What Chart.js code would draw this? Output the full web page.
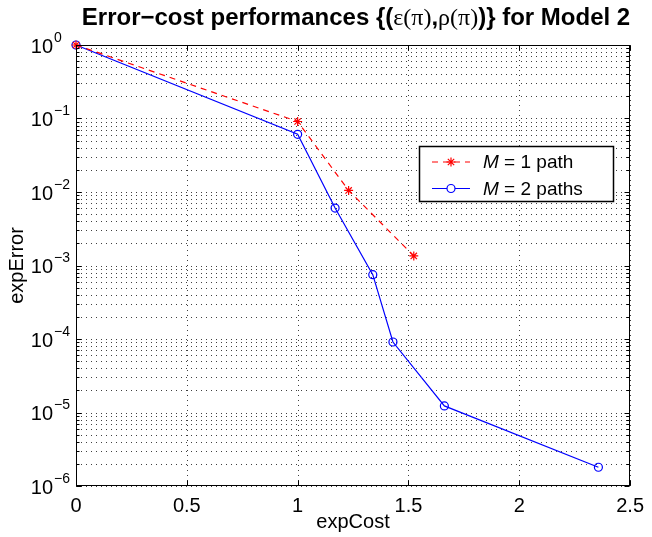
<!DOCTYPE html>
<html>
<head>
<meta charset="utf-8">
<title>Error-cost performances</title>
<script src="https://cdn.jsdelivr.net/npm/chart.js@4.4.1/dist/chart.umd.min.js"></script>
<style>
  body { margin: 0; background: #fff; }
  canvas { display: block; }
</style>
</head>
<body>
<canvas id="myChart" width="652" height="537"></canvas>
<script>
// values
const costM1 = [0, 1.0, 1.23, 1.524];
const errorM1 = [1, 0.091, 0.0105, 0.00135];
const costM2 = [0, 1.0, 1.169, 1.339, 1.43, 1.662, 2.357];
const errorM2 = [1, 0.061, 0.00605, 0.00075, 0.000091, 0.0000123, 0.0000018];
const seriesNames = ['1 path', '2 paths'];
const xTicks = [0, 0.5, 1, 1.5, 2, 2.5];
const yExponents = [0, -1, -2, -3, -4, -5, -6];

const sans = 'Liberation Sans, Arial, sans-serif';
const serif = 'Liberation Serif, Times New Roman, serif';

function pts(xs, ys) {
  return xs.map((x, i) => ({ x: x, y: ys[i] }));
}

// minor + major values of the log axis (1..9 x 10^k)
function yGridValues() {
  const vals = [];
  for (let k = -6; k < 0; k++) {
    for (let m = 1; m <= 9; m++) vals.push(m * Math.pow(10, k));
  }
  vals.push(1);
  return vals;
}

// matlab-ish axes: dotted grid, box, inner ticks, 10^k labels, title, legend
const matlabAxes = {
  id: 'matlabAxes',
  beforeDatasetsDraw(chart) {
    const { ctx, chartArea: a, scales: { x, y } } = chart;
    ctx.save();
    ctx.strokeStyle = 'rgba(0,0,0,0.75)';
    ctx.lineWidth = 1;
    ctx.setLineDash([1, 4]);
    xTicks.forEach(v => {
      const px = Math.round(x.getPixelForValue(v)) + 0.5;
      ctx.beginPath(); ctx.moveTo(px, a.top); ctx.lineTo(px, a.bottom); ctx.stroke();
    });
    yGridValues().forEach(v => {
      const py = Math.round(y.getPixelForValue(v)) + 0.5;
      ctx.beginPath(); ctx.moveTo(a.left, py); ctx.lineTo(a.right, py); ctx.stroke();
    });
    ctx.restore();
  },
  afterDatasetsDraw(chart) {
    const { ctx, chartArea: a, scales: { x, y } } = chart;
    ctx.save();
    ctx.setLineDash([]);
    ctx.strokeStyle = '#000';
    ctx.lineWidth = 1;

    // box
    const L = Math.round(a.left) + 0.5, R = Math.round(a.right) - 0.5;
    const T = Math.round(a.top) + 0.5, B = Math.round(a.bottom) - 0.5;
    ctx.strokeRect(L, T, R - L, B - T);

    // ticks inside the box
    ctx.beginPath();
    xTicks.forEach(v => {
      const px = Math.round(x.getPixelForValue(v)) + 0.5;
      ctx.moveTo(px, B); ctx.lineTo(px, B - 5);
      ctx.moveTo(px, T); ctx.lineTo(px, T + 5);
    });
    yGridValues().forEach(v => {
      const py = Math.round(y.getPixelForValue(v)) + 0.5;
      const major = Math.abs(Math.log10(v) - Math.round(Math.log10(v))) < 1e-9;
      const len = major ? 5 : 3;
      ctx.moveTo(L, py); ctx.lineTo(L + len, py);
      ctx.moveTo(R, py); ctx.lineTo(R - len, py);
    });
    ctx.stroke();

    // y tick labels 10^k
    ctx.fillStyle = '#000';
    yExponents.forEach(k => {
      const py = y.getPixelForValue(Math.pow(10, k));
      ctx.font = '20px ' + sans;
      ctx.textAlign = 'right';
      ctx.textBaseline = 'middle';
      ctx.fillText('10', 53, py + 2);
      ctx.font = '14px ' + sans;
      ctx.textAlign = 'left';
      ctx.fillText(k === 0 ? '0' : '\u2212' + (-k), 54, py - 7);
    });

    // title with greek letters in a serif face
    const tsize = 24;
    const parts = [
      { text: 'Error\u2212cost performances {(', font: 'bold ' + tsize + 'px ' + sans },
      { text: '\u03b5(\u03c0)', font: tsize + 'px ' + serif },
      { text: ',', font: 'bold ' + tsize + 'px ' + sans },
      { text: '\u03c1(\u03c0)', font: tsize + 'px ' + serif },
      { text: ')} for Model 2', font: 'bold ' + tsize + 'px ' + sans }
    ];
    let total = 0;
    parts.forEach(p => { ctx.font = p.font; p.w = ctx.measureText(p.text).width; total += p.w; });
    let tx = 356 - total / 2;
    ctx.textAlign = 'left';
    ctx.textBaseline = 'alphabetic';
    parts.forEach(p => { ctx.font = p.font; ctx.fillText(p.text, tx, 25); tx += p.w; });

    // legend
    const lx = 419.5, ly = 146.5, lw = 194, lh = 55;
    ctx.fillStyle = '#fff';
    ctx.fillRect(lx, ly, lw, lh);
    ctx.strokeStyle = '#000';
    ctx.lineWidth = 1.5;
    ctx.strokeRect(lx, ly, lw, lh);
    const rows = [
      { y: 162, color: '#ff0000', dash: [6, 5], marker: 'star', label: seriesNames[0] },
      { y: 188.5, color: '#0000ff', dash: [], marker: 'circle', label: seriesNames[1] }
    ];
    rows.forEach(r => {
      ctx.strokeStyle = r.color;
      ctx.lineWidth = 1.2;
      ctx.setLineDash(r.dash);
      ctx.beginPath(); ctx.moveTo(432, r.y); ctx.lineTo(470, r.y); ctx.stroke();
      ctx.setLineDash([]);
      ctx.beginPath();
      if (r.marker === 'star') {
        const s = 4.5, d = s * Math.SQRT1_2;
        ctx.moveTo(451 - s, r.y); ctx.lineTo(451 + s, r.y);
        ctx.moveTo(451, r.y - s); ctx.lineTo(451, r.y + s);
        ctx.moveTo(451 - d, r.y - d); ctx.lineTo(451 + d, r.y + d);
        ctx.moveTo(451 - d, r.y + d); ctx.lineTo(451 + d, r.y - d);
      } else {
        ctx.fillStyle = '#fff';
        ctx.arc(451, r.y, 4, 0, Math.PI * 2);
        ctx.fill();
      }
      ctx.stroke();
      ctx.fillStyle = '#000';
      ctx.textBaseline = 'middle';
      ctx.font = 'italic 19px ' + sans;
      ctx.fillText('M', 483, r.y + 1);
      const mw = ctx.measureText('M').width;
      ctx.font = '19px ' + sans;
      ctx.fillText(' = ' + r.label, 483 + mw, r.y + 1);
    });
    ctx.restore();
  }
};

const ctx = document.getElementById('myChart');
new Chart(ctx, {
  type: 'scatter',
  data: {
    datasets: [
      {
        label: seriesNames[0],
        data: pts(costM1, errorM1),
        showLine: true,
        borderColor: '#ff0000',
        borderWidth: 1.2,
        borderDash: [6, 5],
        pointStyle: 'star',
        pointRadius: 4.5,
        pointBorderColor: '#ff0000',
        pointBackgroundColor: '#ff0000',
        pointBorderWidth: 1.2,
        clip: false
      },
      {
        label: seriesNames[1],
        data: pts(costM2, errorM2),
        showLine: true,
        borderColor: '#0000ff',
        borderWidth: 1.2,
        pointStyle: 'circle',
        pointRadius: 4,
        pointBorderColor: '#0000ff',
        pointBackgroundColor: 'rgba(0,0,0,0)',
        pointBorderWidth: 1.2,
        clip: false
      }
    ]
  },
  options: {
    responsive: false,
    animation: false,
    events: [],
    layout: { padding: { top: 45, right: 17, left: 0, bottom: 0 } },
    plugins: {
      legend: { display: false },
      title: { display: false },
      tooltip: { enabled: false }
    },
    scales: {
      x: {
        type: 'linear',
        min: 0,
        max: 2.5,
        grid: { display: false, drawTicks: false },
        border: { display: false },
        afterBuildTicks: s => { s.ticks = xTicks.map(v => ({ value: v })); },
        ticks: {
          color: '#000',
          font: { family: sans, size: 20 },
          padding: 8,
          maxRotation: 0,
          autoSkip: false,
          callback: v => String(v)
        },
        title: {
          display: true,
          text: 'expCost',
          color: '#000',
          font: { family: sans, size: 20 },
          padding: { top: 0, bottom: 3 }
        },
        afterFit: s => { s.height = 51; }
      },
      y: {
        type: 'logarithmic',
        min: 1e-6,
        max: 1,
        grid: { display: false, drawTicks: false },
        border: { display: false },
        ticks: { display: false },
        title: {
          display: true,
          text: 'expError',
          color: '#000',
          font: { family: sans, size: 20 },
          padding: { top: 5, bottom: 0 }
        },
        afterFit: s => { s.width = 76; }
      }
    }
  },
  plugins: [matlabAxes]
});
</script>
</body>
</html>
